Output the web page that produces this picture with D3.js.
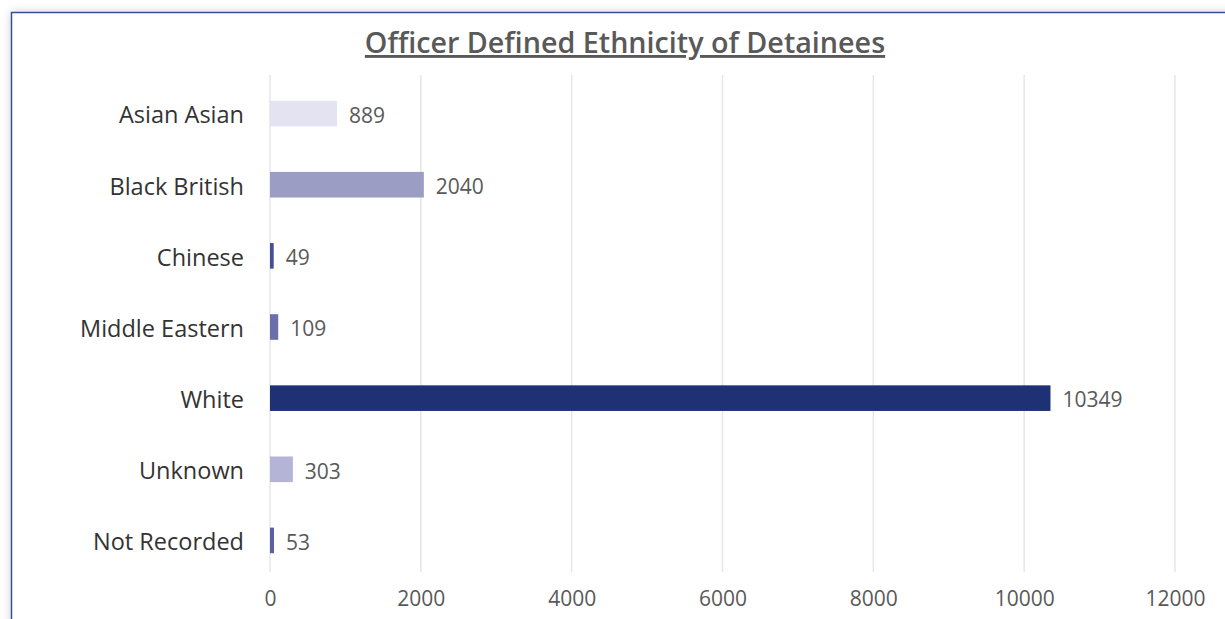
<!DOCTYPE html>
<html>
<head>
<meta charset="utf-8">
<script src="https://cdn.jsdelivr.net/npm/d3@7"></script>
<style>
  html, body { margin: 0; padding: 0; background: #fff; }
  svg { display: block; }
</style>
</head>
<body>
<div id="chart"></div>
<script>
// Data
const categories = ["Asian Asian", "Black British", "Chinese", "Middle Eastern", "White", "Unknown", "Not Recorded"];
const values = [889, 2040, 49, 109, 10349, 303, 53];
const barColors = ["#e3e3f1", "#9c9dc5", "#454f98", "#6c70aa", "#1e3174", "#b4b5d6", "#5b60a1"];
const xTicks = [0, 2000, 4000, 6000, 8000, 10000, 12000];
const titleText = "Officer Defined Ethnicity of Detainees";

const width = 1225;
const height = 619;
const margin = { top: 78, right: 50, bottom: 43, left: 270 };
const font = "'Open Sans', sans-serif";

const svg = d3.select("#chart")
    .append("svg")
    .attr("width", width)
    .attr("height", height);

// Shadow + frame
const defs = svg.append("defs");
const shadow = defs.append("filter")
    .attr("id", "shadow")
    .attr("x", "-5%").attr("y", "-5%")
    .attr("width", "110%").attr("height", "110%");
shadow.append("feDropShadow")
    .attr("dx", 0).attr("dy", 0)
    .attr("stdDeviation", 5)
    .attr("flood-color", "#000")
    .attr("flood-opacity", 0.18);

svg.append("rect")
    .attr("x", 11.5).attr("y", 12.5)
    .attr("width", width + 40).attr("height", height + 40)
    .attr("fill", "#fff")
    .attr("stroke", "#34508f")
    .attr("stroke-width", 1.5)
    .attr("filter", "url(#shadow)");

// Scales
const x = d3.scaleLinear()
    .domain([0, 12000])
    .range([margin.left, 1175]);

const y = d3.scaleBand()
    .domain(categories)
    .range([margin.top, height - margin.bottom])
    .paddingInner(0.64)
    .paddingOuter(0.32);

// Gridlines
svg.append("g")
    .selectAll("line")
    .data(xTicks)
    .enter()
    .append("line")
    .attr("x1", d => x(d))
    .attr("x2", d => x(d))
    .attr("y1", 75)
    .attr("y2", 572)
    .attr("stroke", "#e6e6e6")
    .attr("stroke-width", 1.5);

// X axis labels
const xAxis = svg.append("g")
    .attr("transform", "translate(0,572)")
    .call(d3.axisBottom(x).tickValues(xTicks).tickSize(0).tickPadding(19).tickFormat(d3.format("d")));
xAxis.select(".domain").remove();
xAxis.selectAll("text")
    .attr("font-family", font)
    .attr("font-size", "21px")
    .attr("fill", "#595959");

// Y axis labels
const yAxis = svg.append("g")
    .attr("transform", `translate(${margin.left},0)`)
    .call(d3.axisLeft(y).tickSize(0).tickPadding(26));
yAxis.select(".domain").remove();
yAxis.selectAll("text")
    .attr("font-family", font)
    .attr("font-size", "23.5px")
    .attr("dy", "0.42em")
    .attr("fill", "#333333");

// Bars
svg.append("g")
    .selectAll("rect")
    .data(categories)
    .enter()
    .append("rect")
    .attr("x", x(0))
    .attr("y", d => y(d))
    .attr("width", (d, i) => x(values[i]) - x(0))
    .attr("height", y.bandwidth())
    .attr("fill", (d, i) => barColors[i]);

// Value labels
svg.append("g")
    .selectAll("text")
    .data(categories)
    .enter()
    .append("text")
    .attr("x", (d, i) => x(values[i]) + 12)
    .attr("y", d => y(d) + y.bandwidth() / 2)
    .attr("dy", "0.44em")
    .attr("font-family", font)
    .attr("font-size", "21px")
    .attr("fill", "#595959")
    .text((d, i) => values[i]);

// Title
svg.append("text")
    .attr("x", 625)
    .attr("y", 53)
    .attr("text-anchor", "middle")
    .attr("font-family", font)
    .attr("font-size", "28.7px")
    .attr("font-weight", 600)
    .attr("fill", "#595959")
    .attr("text-decoration", "underline")
    .text(titleText);
</script>
</body>
</html>
